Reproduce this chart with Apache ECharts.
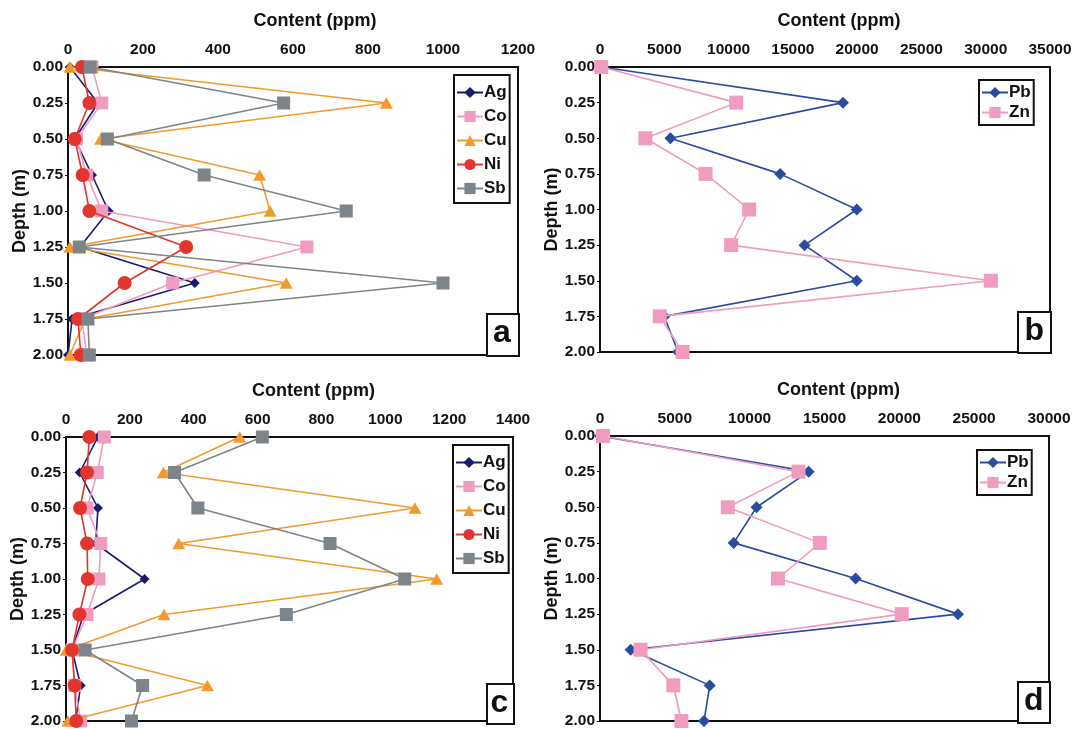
<!DOCTYPE html>
<html><head><meta charset="utf-8">
<script src="https://cdn.jsdelivr.net/npm/echarts@6/dist/echarts.min.js"></script>
<style>html,body{margin:0;padding:0;background:#fff}#c{width:1077px;height:729px}</style>
</head><body><div id="c"></div>
<script>
const depths = [0, 0.25, 0.5, 0.75, 1.0, 1.25, 1.5, 1.75, 2.0];
// Panel a
const agA = [5, 80, 18, 64, 108, 32, 338, 11, 0];
const coA = [64, 90, 23, 50, 90, 637, 279, 37, 50];
const cuA = [5, 849, 87, 511, 539, 5, 582, 46, 5];
const niA = [37, 57, 18, 39, 57, 315, 151, 27, 34];
const sbA = [59, 575, 105, 363, 742, 30, 1000, 53, 57];
// Panel b
const pbB = [100, 18900, 5480, 14010, 19970, 15910, 19970, 5000, 6070];
const znB = [100, 10600, 3530, 8210, 11600, 10200, 30400, 4650, 6420];
// Panel c
const agC = [100, 43, 100, 93, 246, 55, 19, 46, 30];
const coC = [120, 98, 66, 109, 103, 66, 19, 27, 46];
const cuC = [544, 305, 1093, 353, 1161, 307, 1, 443, 6];
const niC = [73, 66, 44, 66, 68, 42, 19, 27, 32];
const sbC = [615, 340, 413, 827, 1061, 690, 60, 240, 205];
// Panel d
const pbD = [0, 13940, 10460, 8930, 17080, 23920, 2050, 7335, 6950];
const znD = [200, 13260, 8540, 14690, 11890, 20160, 2710, 4900, 5440];

const xMax = [1200, 35000, 1400, 30000];
const xStep = [200, 5000, 200, 5000];
const panelLetters = ['a', 'b', 'c', 'd'];

const FONT = 'Liberation Sans';
const C = {Ag:'#1c1a6e', Co:'#f09cc0', Cu:'#f39a2e', Ni:'#e2352d', Sb:'#7d858a', Pb:'#2b4c9e', Zn:'#ef9cc0'};
const SYM = {Ag:['diamond',10], Co:['rect',13], Cu:['triangle',13], Ni:['circle',14], Sb:['rect',13], Pb:['diamond',12], Zn:['rect',14]};

const grids = [
  {left:68, top:67, width:450, height:288},
  {left:600, top:67, width:450, height:285},
  {left:66, top:437, width:447, height:286},
  {left:600, top:436, width:449, height:286}
];
const namePad = [44, 28, 48, 28];

const chart = echarts.init(document.getElementById('c'), null, {renderer:'canvas'});

const xAxes = grids.map((g,i)=>({
  gridIndex:i, type:'value', position:'top', min:0, max:xMax[i], interval:xStep[i],
  name:'Content (ppm)', nameLocation:'middle', nameGap:37,
  nameTextStyle:{fontFamily:FONT, fontWeight:'bold', fontSize:18, color:'#111', padding:[0,0,0,namePad[i]]},
  axisLine:{show:true, onZero:false, lineStyle:{color:'#111', width:2}},
  axisTick:{show:false},
  axisLabel:{fontFamily:FONT, fontWeight:'bold', fontSize:15.5, color:'#111', margin:9, showMaxLabel:true,
    formatter:v=>String(v)},
  splitLine:{show:false}
}));
const yAxes = grids.map((g,i)=>({
  gridIndex:i, type:'value', inverse:true, min:0, max:2, interval:0.25,
  name:'Depth (m)', nameLocation:'middle', nameGap:39, nameRotate:90,
  nameTextStyle:{fontFamily:FONT, fontWeight:'bold', fontSize:18, color:'#111'},
  axisLine:{show:true, onZero:false, lineStyle:{color:'#111', width:2}},
  axisTick:{show:true, inside:false, length:3, lineStyle:{color:'#111', width:1}},
  axisLabel:{fontFamily:FONT, fontWeight:'bold', fontSize:15.5, color:'#111', margin:5,
    formatter:v=>v.toFixed(2)},
  splitLine:{show:false}
}));

function mk(name, vals, idx, z){
  const [sym, size] = SYM[name];
  return {
    name, type:'line', xAxisIndex:idx, yAxisIndex:idx,
    data: depths.map((d,i)=>[vals[i], d]),
    symbol:sym, symbolSize: sym==='triangle'? [size, size*0.9] : size,
    lineStyle:{color:C[name], width:1.6}, itemStyle:{color:C[name]},
    showSymbol:true, animation:false, z:z, clip:false
  };
}

const series = [
  mk('Ag', agA, 0, 2), mk('Co', coA, 0, 3), mk('Cu', cuA, 0, 4), mk('Ni', niA, 0, 5), mk('Sb', sbA, 0, 6),
  mk('Pb', pbB, 1, 2), mk('Zn', znB, 1, 3),
  mk('Ag', agC, 2, 2), mk('Co', coC, 2, 3), mk('Cu', cuC, 2, 4), mk('Ni', niC, 2, 5), mk('Sb', sbC, 2, 6),
  mk('Pb', pbD, 3, 2), mk('Zn', znD, 3, 3)
];
const legendPos = [
  {left:454, top:75, data:['Ag','Co','Cu','Ni','Sb'], gap:7, pad:[9,3,6,2]},
  {left:979, top:80, data:['Pb','Zn'], gap:3, pad:[4,3,4,2]},
  {left:453, top:445, data:['Ag','Co','Cu','Ni','Sb'], gap:7, pad:[9,3,6,2]},
  {left:977, top:450, data:['Pb','Zn'], gap:3, pad:[4,3,4,2]}
];
const legends = legendPos.map(l=>({
  left:l.left, top:l.top, orient:'vertical', itemGap:l.gap, itemWidth:26, itemHeight:14,
  padding:l.pad, borderColor:'#111', borderWidth:2, backgroundColor:'#fff',
  selectedMode:false,
  data:l.data,
  textStyle:{fontFamily:FONT, fontWeight:'bold', fontSize:17, color:'#111', padding:[0,0,0,-4]},
  z:10
}));

const letterBoxes = [
  {left:486, top:313, w:32, h:42},
  {left:1017, top:311, w:33, h:41},
  {left:486, top:683, w:27, h:40},
  {left:1017, top:681, w:32, h:41}
];
const graphics = [];
letterBoxes.forEach((b,i)=>{
  graphics.push({type:'rect', left:b.left, top:b.top, shape:{width:b.w, height:b.h},
    style:{fill:'#fff', stroke:'#111', lineWidth:2}, z:20});
  graphics.push({type:'text', left:b.left + b.w/2 - 9, top:b.top + 4,
    style:{text:panelLetters[i], font:'bold 32px "Liberation Sans"', fill:'#111'}, z:21});
});

chart.setOption({
  backgroundColor:'#fff',
  animation:false,
  grid: grids.map(g=>Object.assign({show:true, borderColor:'#111', borderWidth:2, backgroundColor:'transparent'}, g)),
  xAxis:xAxes, yAxis:yAxes,
  legend:legends,
  series:series,
  graphic:graphics
});
</script></body></html>
